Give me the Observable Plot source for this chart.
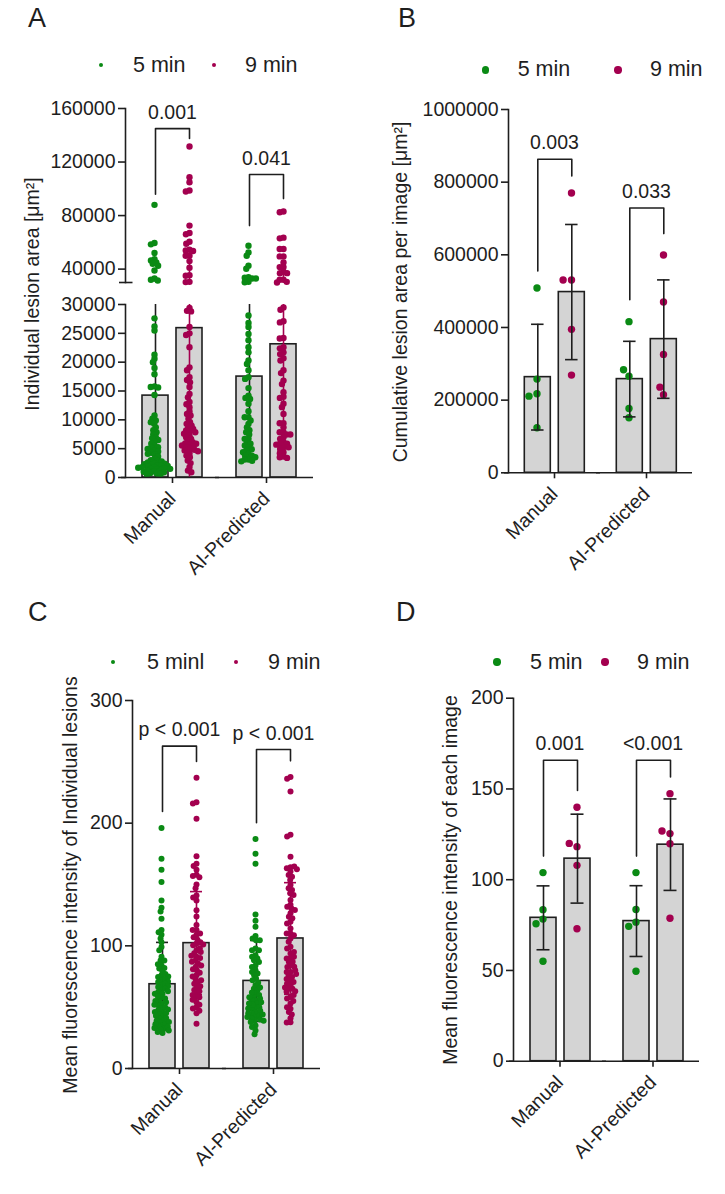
<!DOCTYPE html>
<html>
<head>
<meta charset="utf-8">
<script src="https://cdn.jsdelivr.net/npm/d3@7"></script>
<script src="https://cdn.jsdelivr.net/npm/@observablehq/plot@0.6"></script>
<style>
html,body{margin:0;padding:0;background:#fff;}
#page{position:relative;width:725px;height:1194px;overflow:hidden;background:#fff;font-family:"Liberation Sans",Arial,sans-serif;color:#1e1e1e;}
.abs{position:absolute;white-space:nowrap;line-height:1;}
</style>
</head>
<body>
<div id="page"></div>
<script>
// ---------------- data ----------------
const methods = ["Manual", "AI-Predicted"];
const times = ["5 min", "9 min"];

// A: individual lesion area [µm²]
const areaManual5 = [88000, 59500, 58500, 52000, 47500, 46500, 45000, 44000, 42500, 39000, 33000, 32000, 31500, 27600, 26200, 25500, 21300, 20600, 20000, 19000, 17900, 15800, 15700, 15600, 14300, 10750, 10200, 9900, 9600, 9300, 8700, 8200, 7850, 7500, 7000, 6800, 6500, 6200, 5850, 5500, 5250, 5150, 4950, 4700, 4500, 4300, 4100, 4000, 3650, 3200, 3000, 2900, 2800, 2600, 2500, 2400, 2300, 2200, 2100, 2000, 2000, 1900, 1800, 1800, 1700, 1600, 1500, 1500, 1400, 1300, 1200, 1100, 1000, 900, 800, 700, 600, 500];
const areaManual9 = [131600, 108700, 104900, 98700, 98000, 72500, 67000, 66000, 60500, 59000, 54500, 54000, 53500, 50000, 50000, 46000, 41000, 35500, 35000, 30500, 30300, 29400, 28900, 28800, 26100, 25000, 24700, 22600, 19100, 18600, 17400, 16900, 16500, 15700, 14500, 13900, 13100, 12700, 12200, 11500, 11000, 10750, 10200, 9600, 9300, 9000, 8700, 8400, 8150, 8000, 7850, 7600, 7300, 7000, 6700, 6400, 6100, 5900, 5850, 5700, 5550, 5400, 5250, 4950, 4800, 4700, 4550, 4200, 3800, 3500, 2950, 2500, 1800, 1200, 900];
const areaAI5 = [57500, 52500, 50000, 42600, 40300, 34000, 33500, 33000, 33000, 30500, 30200, 28100, 26800, 26100, 24900, 23800, 22600, 21700, 20300, 19700, 18600, 17400, 17100, 15500, 14200, 13800, 13600, 12800, 11500, 10450, 10450, 9900, 9300, 8700, 8200, 7850, 7450, 6700, 6700, 6100, 5850, 5550, 5250, 4900, 4700, 4400, 4100, 3800, 3800, 3500, 3100, 3100, 2900, 2800];
const areaAI9 = [83000, 82500, 63500, 63000, 55000, 55000, 49500, 49500, 45000, 41500, 41500, 38000, 37000, 37000, 32000, 32000, 30500, 30000, 29500, 29100, 27100, 26900, 24200, 24100, 22600, 22400, 21700, 21400, 20700, 20300, 18600, 18100, 16800, 16200, 14800, 14000, 13800, 12800, 12200, 11000, 9400, 9400, 8700, 7850, 7850, 7450, 7450, 7000, 6700, 6100, 5850, 5850, 5700, 5250, 5250, 4950, 4400, 4200, 3650, 3500, 3400];
const areaMeans = [14200, 25900, 17500, 23100];      // Manual 5, Manual 9, AI 5, AI 9
const areaSD = [16800, 26000, 13500, 18000];
const areaP = ["0.001", "0.041"];
const areaBracketTop = [145000, 110650];
const areaBracketLeg5 = [96000, 72500];
const areaBracketLeg9 = [137600, 92700];

// B: cumulative lesion area per image [µm²]
const cumManual5 = [508800, 257900, 217600, 211000, 124000];
const cumManual9 = [770300, 530600, 530600, 394800, 268900];
const cumAI5 = [416000, 266100, 283700, 177100, 151500];
const cumAI9 = [599400, 470000, 325900, 214900, 235800];
const cumMeans = [263300, 497500, 257900, 368000];
const cumSD = [145500, 186000, 104000, 163000];
const cumP = ["0.003", "0.033"];
const cumBracketTop = [863100, 729000];
const cumBracketLeg5 = [555400, 476600];
const cumBracketLeg9 = [817000, 658400];

// C: mean fluorescence intensity of individual lesions
const fluoManual5 = [196, 171, 162, 152, 137, 131, 128, 122, 113, 111, 109, 106, 103, 99, 96.5, 91, 88, 84, 81.5, 76, 74.6, 72, 70.5, 68, 66.5, 64, 62.4, 61, 58, 55.6, 53, 51.5, 49, 47.4, 46, 44, 42.5, 40.6, 39, 37.4, 35, 34.3, 36.5, 32.4, 31.6, 29.7, 28.9, 88, 85, 82, 79, 77, 75, 73, 71, 69, 67, 65, 63, 61, 59, 57, 55, 54, 52, 50, 48, 46, 45, 43, 41, 39, 38, 36, 34, 33, 31];
const fluoManual9 = [237, 217, 216, 203.5, 173, 167, 165, 162, 158, 157, 156, 150, 147, 141, 139.5, 137, 129, 124, 117, 113, 113, 109, 110, 107, 102, 100.5, 96.5, 94, 91, 88, 85.6, 83, 80, 76, 73, 70.5, 66.5, 64, 61, 58, 58, 54, 50, 49, 45, 36.5, 105, 103, 101, 98, 95, 92, 90, 87, 84, 81, 78, 75, 72, 69, 67, 63, 60, 56, 52, 47];
const fluoAI5 = [187, 175, 167, 125.6, 120.4, 115.5, 108, 106, 104.6, 104.6, 97.8, 96.5, 96.5, 92.4, 91, 89.7, 88.3, 86.9, 84, 82.8, 80, 78.7, 77.4, 76, 73.3, 72, 67.8, 65, 63.8, 61, 58.3, 55.6, 55.6, 53, 50, 48.8, 46, 44.7, 42, 39, 35, 33.8, 31, 28, 70, 66, 62, 60, 57, 54, 52, 50, 47, 45, 43, 41, 40, 38, 58, 53, 49, 44, 42, 39];
const fluoAI9 = [237.6, 236.2, 225.9, 190.5, 189.1, 172.7, 164, 163.2, 164.6, 162.4, 160.5, 157.8, 156.4, 153.7, 149.6, 146.9, 145.5, 142.8, 141.4, 137.3, 133.5, 131.9, 130.5, 129.2, 126.5, 123.7, 122.4, 119.6, 118.3, 114.2, 110.1, 110.1, 108.7, 106, 103.3, 99.2, 97.8, 93.7, 89.7, 89.7, 86.9, 84.2, 82.8, 78.7, 78.7, 76, 74.6, 71.9, 70.5, 67.8, 65.1, 65.1, 62.5, 58.3, 57, 52.9, 48.8, 46, 37.8, 37.4, 95, 91, 87, 83, 80, 77, 73, 69, 66, 63, 60, 55, 50, 44, 41];
const fluoMeans = [68.7, 102.2, 71.4, 106];
const fluoSD = [34.1, 42, 33, 45.5];
const fluoP = ["p < 0.001", "p < 0.001"];
const fluoBracketTop = [262.8, 260];
const fluoBracketLeg5 = [209.5, 200.3];
const fluoBracketLeg9 = [250.3, 250.8];

// D: mean fluorescence intensity of each image
const imgManual5 = [103.9, 83.5, 78.3, 75.7, 55.1];
const imgManual9 = [139.9, 118.2, 120.0, 107.9, 73.0];
const imgAI5 = [103.9, 83.6, 76.6, 74.3, 49.6];
const imgAI9 = [147.4, 125.4, 126.8, 119.8, 78.8];
const imgMeans = [79.0, 111.6, 77.2, 119.3];
const imgSD = [17.6, 24.5, 19.5, 25.2];
const imgP = ["0.001", "<0.001"];
const imgBracketTop = [165.8, 165.8];
const imgBracketLeg5 = [113, 113];
const imgBracketLeg9 = [149.2, 156.6];

// ---------------- style ----------------
const GREEN = "#0a8a14";
const MAGENTA = "#a3004f";
const BAR_FILL = "#d4d4d4";
const INK = "#1e1e1e";
const FONT = '"Liberation Sans", Arial, sans-serif';
const TICK_FS = 19.5;
const SW = 1.6;

// ---------------- helpers ----------------
function toPoints(m5, m9, a5, a9) {
  const groups = [[methods[0], times[0], m5], [methods[0], times[1], m9], [methods[1], times[0], a5], [methods[1], times[1], a9]];
  return groups.flatMap(([method, time, vals]) => vals.map(v => ({method, time, v})));
}
function toStats(means, sds) {
  const out = []; let k = 0;
  for (const method of methods) for (const time of times) { out.push({method, time, mean: means[k], sd: sds[k]}); k++; }
  return out;
}
function toBrackets(p, top, leg5, leg9) {
  return methods.map((method, i) => ({method, p: p[i], top: top[i], leg5: leg5[i], leg9: leg9[i]}));
}

const page = document.getElementById("page");

function panel(o) {
  const {box, frame} = o;
  const fw = (frame.right - frame.left) / 2;
  const step = o.barW + o.barGap;
  const [lo, hi] = o.yDomain;
  const pts = o.points.filter(d => o.keep(d.v));
  const errs = o.stats.map(s => ({
    ...s,
    a: Math.max(lo, s.mean - s.sd), b: Math.min(hi, s.mean + s.sd),
    capA: s.mean - s.sd >= lo, capB: s.mean + s.sd <= hi
  })).filter(e => e.b > e.a);
  const half = o.barW / 2; // band offset that Plot adds to positioned marks
  const marks = [];
  if (o.bars) marks.push(Plot.barY(o.stats, {fx: "method", x: "time", y: "mean", fill: BAR_FILL, stroke: INK, strokeWidth: SW}));
  const errMarks = [];
  times.forEach(t => {
    const es = errs.filter(e => e.time === t);
    const col = o.errColors[t];
    errMarks.push(Plot.ruleX(es, {fx: "method", x: "time", y1: "a", y2: "b", stroke: col, strokeWidth: SW}));
    if (o.caps) {
      const inset = (o.barW - o.capW) / 2;
      errMarks.push(Plot.tickY(es.filter(e => e.capB), {fx: "method", x: "time", y: "b", stroke: col, strokeWidth: SW, insetLeft: inset, insetRight: inset}));
      errMarks.push(Plot.tickY(es.filter(e => e.capA), {fx: "method", x: "time", y: "a", stroke: col, strokeWidth: SW, insetLeft: inset, insetRight: inset}));
    }
  });
  const dotMarks = times.map((t, i) => Plot.dot(pts.filter(d => d.time === t),
    Plot.dodgeX({anchor: "middle", padding: o.pad}, {fx: "method", y: "v", r: o.r, fill: i === 0 ? GREEN : MAGENTA,
      dx: (i === 0 ? -step / 2 : step / 2) - half})));
  if (o.errOnTop) marks.push(...dotMarks, ...errMarks); else marks.push(...errMarks, ...dotMarks);
  if (o.brackets) {
    const bpts = o.brackets.flatMap(b => [
      {method: b.method, time: times[0], v: b.leg5},
      {method: b.method, time: times[0], v: b.top},
      {method: b.method, time: times[1], v: b.top},
      {method: b.method, time: times[1], v: b.leg9}]);
    marks.push(Plot.line(bpts, {fx: "method", x: "time", y: "v", stroke: INK, strokeWidth: SW}));
    marks.push(Plot.text(o.brackets, {fx: "method", y: "top", text: "p", lineAnchor: "bottom", dy: -10, fontSize: TICK_FS, fill: INK}));
  }
  marks.push(Plot.frame({anchor: "left", facetAnchor: "left", stroke: INK, strokeWidth: SW}));
  marks.push(Plot.axisY({ticks: o.yTicks, tickFormat: "d", tickSize: 7, tickPadding: 3, label: null, fontSize: TICK_FS, strokeWidth: SW}));
  if (o.breakMark) {
    marks.push(Plot.ruleY([{method: methods[0], v: lo}], {fx: "method", y: "v", insetLeft: -6, insetRight: fw - 8, stroke: INK, strokeWidth: SW}));
  }
  if (o.showX) {
    marks.push(Plot.ruleY([lo], {insetLeft: -4, stroke: INK, strokeWidth: SW}));
    marks.push(Plot.axisFx({anchor: "bottom", tickRotate: -45, tickSize: 6, tickPadding: 12, label: null, fontSize: TICK_FS, strokeWidth: SW}));
  }
  const svg = Plot.plot({
    width: box.width, height: box.height,
    marginLeft: frame.left - box.left, marginRight: box.left + box.width - frame.right,
    marginTop: frame.top - box.top, marginBottom: box.top + box.height - frame.bottom,
    style: {fontFamily: FONT, fontSize: TICK_FS + "px", background: "transparent", overflow: "visible", color: INK},
    fx: {domain: methods, padding: 0, axis: null, label: null},
    x: {type: "band", domain: times, paddingInner: o.barGap / step, paddingOuter: (fw - 2 * o.barW - o.barGap) / 2 / step, axis: null},
    y: {domain: o.yDomain, axis: null},
    marks
  });
  const wrap = document.createElement("div");
  wrap.style.cssText = `position:absolute;left:${box.left}px;top:${box.top}px;width:${box.width}px;height:${box.height}px;`;
  wrap.appendChild(svg);
  page.appendChild(wrap);
}

function text(str, x, baseline, size, extra = "") {
  const d = document.createElement("div");
  d.className = "abs";
  d.textContent = str;
  d.style.cssText += `left:${x}px;top:${baseline - 0.8465 * size}px;font-size:${size}px;${extra}`;
  page.appendChild(d);
}
function ylabel(str, cx, cy, size) {
  const d = document.createElement("div");
  d.className = "abs";
  d.textContent = str;
  d.style.cssText += `left:${cx}px;top:${cy}px;font-size:${size}px;transform:translate(-50%,-50%) rotate(-90deg);`;
  page.appendChild(d);
}
function legendDot(cx, cy, r, color) {
  const d = document.createElement("div");
  d.style.cssText = `position:absolute;left:${cx - r}px;top:${cy - r}px;width:${2 * r}px;height:${2 * r}px;border-radius:50%;background:${color};`;
  page.appendChild(d);
}
function legend(labels, dotX, textX, cy, baseline, r) {
  [GREEN, MAGENTA].forEach((c, i) => { legendDot(dotX[i], cy, r, c); text(labels[i], textX[i], baseline, 21.5); });
}

// ---------------- panels ----------------
const areaPts = toPoints(areaManual5, areaManual9, areaAI5, areaAI9);
const areaStats = toStats(areaMeans, areaSD);
const errMixed = {"5 min": INK, "9 min": MAGENTA};
const errBlack = {"5 min": INK, "9 min": INK};

// A (broken axis: upper and lower segments)
panel({box: {left: 0, top: 90, width: 362, height: 196}, frame: {left: 124, right: 313, top: 108, bottom: 282},
  yDomain: [30000, 160000], yTicks: [40000, 80000, 120000, 160000], keep: v => v >= 30000,
  points: areaPts, stats: areaStats, bars: false, caps: false, errColors: errMixed, errOnTop: false,
  r: 3.2, pad: -2.6, barW: 27, barGap: 8, brackets: toBrackets(areaP, areaBracketTop, areaBracketLeg5, areaBracketLeg9),
  breakMark: true, showX: false});
panel({box: {left: 0, top: 290, width: 362, height: 290}, frame: {left: 124, right: 313, top: 304, bottom: 477},
  yDomain: [0, 30000], yTicks: [0, 5000, 10000, 15000, 20000, 25000, 30000], keep: v => v < 30000,
  points: areaPts, stats: areaStats, bars: true, caps: false, errColors: errMixed, errOnTop: false,
  r: 3.2, pad: -2.6, barW: 27, barGap: 8, showX: true});

// B
panel({box: {left: 362, top: 90, width: 363, height: 490}, frame: {left: 507.7, right: 693, top: 109, bottom: 472.3},
  yDomain: [0, 1000000], yTicks: [0, 200000, 400000, 600000, 800000, 1000000], keep: () => true,
  points: toPoints(cumManual5, cumManual9, cumAI5, cumAI9), stats: toStats(cumMeans, cumSD),
  bars: true, caps: true, capW: 13, errColors: errBlack, errOnTop: true,
  r: 3.7, pad: 1, barW: 26.5, barGap: 8, brackets: toBrackets(cumP, cumBracketTop, cumBracketLeg5, cumBracketLeg9), showX: true});

// C
panel({box: {left: 0, top: 680, width: 362, height: 514}, frame: {left: 131, right: 320, top: 700, bottom: 1068},
  yDomain: [0, 300], yTicks: [0, 100, 200, 300], keep: () => true,
  points: toPoints(fluoManual5, fluoManual9, fluoAI5, fluoAI9), stats: toStats(fluoMeans, fluoSD),
  bars: true, caps: true, capW: 13, errColors: errMixed, errOnTop: false,
  r: 3.0, pad: -2.2, barW: 27, barGap: 8, brackets: toBrackets(fluoP, fluoBracketTop, fluoBracketLeg5, fluoBracketLeg9), showX: true});

// D
panel({box: {left: 362, top: 680, width: 363, height: 514}, frame: {left: 513, right: 699, top: 697.7, bottom: 1060.7},
  yDomain: [0, 200], yTicks: [0, 50, 100, 150, 200], keep: () => true,
  points: toPoints(imgManual5, imgManual9, imgAI5, imgAI9), stats: toStats(imgMeans, imgSD),
  bars: true, caps: true, capW: 13, errColors: errBlack, errOnTop: true,
  r: 3.7, pad: 1, barW: 26, barGap: 8, brackets: toBrackets(imgP, imgBracketTop, imgBracketLeg5, imgBracketLeg9), showX: true});

// ---------------- letters, legends, axis titles ----------------
text("A", 28, 28, 27);
text("B", 398, 28, 27);
text("C", 28, 622, 27);
text("D", 396, 622, 27);

legend(["5 min", "9 min"], [101, 214], [133, 245], 65, 73.3, 2.4);
legend(["5 min", "9 min"], [485.3, 618], [517.7, 650], 70, 77.3, 3.7);
legend(["5 minl", "9 min"], [113, 236], [147, 268], 662, 670, 2.4);
legend(["5 min", "9 min"], [497, 605], [530, 637], 662, 670, 3.7);

ylabel("Individual lesion area [μm²]", 33, 293.5, TICK_FS);
ylabel("Cumulative lesion area per image [μm²]", 401, 292, TICK_FS);
ylabel("Mean fluorescence intensity of Individual lesions", 70.5, 885, TICK_FS);
ylabel("Mean fluorescence intensity of each image", 451, 880, TICK_FS);
</script>
</body>
</html>
